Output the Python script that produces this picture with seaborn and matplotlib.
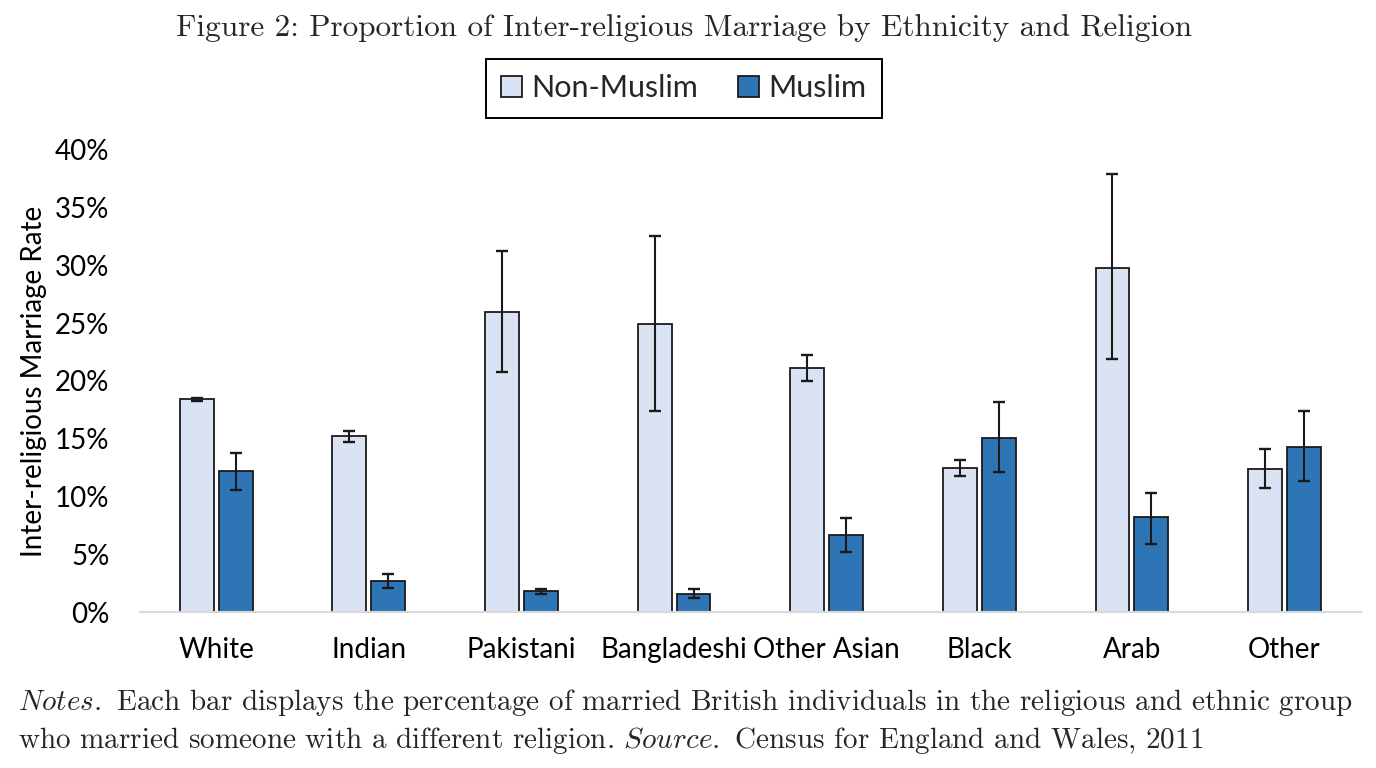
import matplotlib
matplotlib.use('Agg')
import numpy as np
import pandas as pd
import seaborn as sns
from matplotlib import pyplot as plt
from matplotlib.patches import Patch
from matplotlib.ticker import FuncFormatter

# values (percent)
ethnicities = ['White', 'Indian', 'Pakistani', 'Bangladeshi', 'Other Asian', 'Black', 'Arab', 'Other']
religions = ['Non-Muslim', 'Muslim']

non_muslim = [18.4, 15.2, 26.0, 24.9, 21.1, 12.5, 29.8, 12.4]
non_muslim_low = [18.3, 14.7, 20.8, 17.4, 20.0, 11.8, 21.9, 10.7]
non_muslim_high = [18.5, 15.7, 31.2, 32.5, 22.2, 13.2, 37.9, 14.1]

muslim = [12.2, 2.7, 1.8, 1.6, 6.7, 15.1, 8.2, 14.3]
muslim_low = [10.6, 2.1, 1.6, 1.2, 5.2, 12.1, 5.9, 11.3]
muslim_high = [13.8, 3.3, 2.0, 2.0, 8.1, 18.2, 10.3, 17.4]

colors = ['#dae3f3', '#2e75b6']
edge = '#1a1a1a'

title = 'Figure 2: Proportion of Inter-religious Marriage by Ethnicity and Religion'
note1 = (r'$\mathit{Notes.}$ Each bar displays the percentage of married British individuals '
         r'in the religious and ethnic group')
note2 = r'who married someone with a different religion. $\mathit{Source.}$ Census for England and Wales, 2011'

df = pd.DataFrame({
    'ethnicity': ethnicities * 2,
    'religion': [religions[0]] * len(ethnicities) + [religions[1]] * len(ethnicities),
    'rate': non_muslim + muslim,
})

sns.set_theme(style='white')
plt.rcParams['font.family'] = ['Lato', 'DejaVu Sans']
plt.rcParams['mathtext.fontset'] = 'cm'

fig = plt.figure(figsize=(13.76, 7.68), dpi=100)
ax = fig.add_axes([0.1017, 0.203, 0.8873, 0.602])

sns.barplot(data=df, x='ethnicity', y='rate', hue='religion', order=ethnicities,
            hue_order=religions, palette=colors, saturation=1, edgecolor=edge,
            linewidth=1.3, width=0.51, gap=0.13, errorbar=None, ax=ax)

# confidence intervals
for cont, v, lo, hi in zip(ax.containers, [non_muslim, muslim],
                           [non_muslim_low, muslim_low], [non_muslim_high, muslim_high]):
    xs = [b.get_x() + b.get_width() / 2 for b in cont]
    ax.errorbar(xs, v, yerr=[np.subtract(v, lo), np.subtract(hi, v)], fmt='none',
                ecolor=edge, elinewidth=1.5, capsize=4.5, capthick=1.7)

if ax.get_legend() is not None:
    ax.get_legend().remove()

ax.set_xlim(-0.5, len(ethnicities) - 0.5)
ax.set_ylim(0, 40)
ax.set_yticks(range(0, 41, 5))
ax.yaxis.set_major_formatter(FuncFormatter(lambda v, p: f'{v:.0f}%'))
sns.despine(ax=ax, left=True)
ax.spines['bottom'].set_color('#d9d9d9')
ax.spines['bottom'].set_linewidth(1.5)
ax.tick_params(axis='x', length=0, labelsize=20, pad=18, colors='black')
ax.tick_params(axis='y', length=0, labelsize=20, pad=22, colors='black')
ax.set_xlabel('')
ax.set_ylabel('Inter-religious Marriage Rate', fontsize=20, labelpad=6, color='black')

handles = [Patch(facecolor=c, edgecolor=edge, linewidth=1.3) for c in colors]
leg = fig.legend(handles, religions, loc='center', bbox_to_anchor=(0.497, 0.885), ncol=2,
                 frameon=True, fancybox=False, edgecolor='black', framealpha=1,
                 fontsize=22, handlelength=0.7, handleheight=0.7, handletextpad=0.3,
                 columnspacing=1.3, borderpad=0.5, borderaxespad=0)
leg.get_frame().set_linewidth(1.4)

fig.text(0.497, 0.964, title, ha='center', va='center', family='cmr10', fontsize=22.5)
fig.text(0.013, 0.085, note1, ha='left', va='center', family='cmr10', fontsize=21)
fig.text(0.013, 0.036, note2, ha='left', va='center', family='cmr10', fontsize=21)

fig.savefig('out.png', dpi=100)
